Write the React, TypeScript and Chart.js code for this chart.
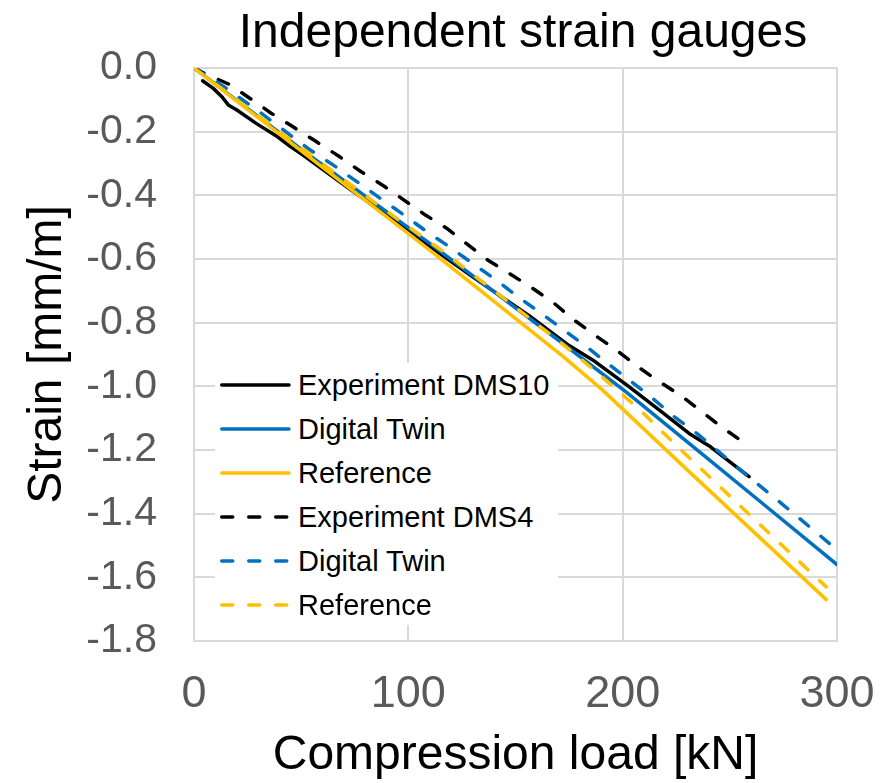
import React, { useEffect, useRef } from "react";
import { Chart, registerables } from "chart.js";

Chart.register(...registerables);

// ---------- data ----------
const TITLE = "Independent strain gauges";
const X_TITLE = "Compression load [kN]";
const Y_TITLE = "Strain [mm/m]";

const X_MIN = 0;
const X_MAX = 300;
const X_STEP = 100;
const Y_MIN = -1.8;
const Y_MAX = 0;
const Y_STEP = 0.2;

const SERIES_NAMES = [
  "Experiment DMS10",
  "Digital Twin",
  "Reference",
  "Experiment DMS4",
  "Digital Twin",
  "Reference",
];

const expDMS10Load = [4, 9, 13, 16, 20, 29, 39, 45, 51, 60, 73, 87, 110, 130, 157, 175, 186, 202, 217, 231, 241, 250, 259];
const expDMS10Strain = [-0.04, -0.064, -0.09, -0.116, -0.132, -0.174, -0.216, -0.247, -0.274, -0.318, -0.382, -0.448, -0.56, -0.656, -0.781, -0.872, -0.917, -0.996, -1.074, -1.148, -1.19, -1.237, -1.284];

const dtDMS10Load = [0, 50, 110, 171, 202, 233, 266, 300];
const dtDMS10Strain = [0, -0.255, -0.551, -0.86, -1.02, -1.19, -1.372, -1.56];

const refDMS10Load = [0, 110, 172, 190, 231, 295];
const refDMS10Strain = [0, -0.572, -0.905, -1.008, -1.268, -1.67];

const expDMS4Load = [0, 5, 17, 26, 36, 46, 57, 68, 78, 88, 98, 108, 118, 127, 137, 147, 158, 168, 177, 187, 197, 207, 217, 228, 237, 246, 256, 259];
const expDMS4Strain = [0, -0.017, -0.053, -0.095, -0.142, -0.184, -0.231, -0.279, -0.326, -0.368, -0.415, -0.462, -0.504, -0.551, -0.603, -0.645, -0.692, -0.739, -0.79, -0.839, -0.886, -0.938, -0.985, -1.033, -1.08, -1.127, -1.174, -1.184];

const dtDMS4Load = [0, 14, 30, 53, 65, 76, 87, 98, 109, 119, 130, 141, 151, 162, 172, 183, 193, 203, 214, 224, 235, 255, 275, 298];
const dtDMS4Strain = [0, -0.059, -0.135, -0.252, -0.305, -0.357, -0.41, -0.462, -0.516, -0.561, -0.614, -0.666, -0.718, -0.771, -0.82, -0.875, -0.928, -0.98, -1.038, -1.095, -1.15, -1.263, -1.373, -1.502];

const refDMS4Load = [0, 87, 118, 171, 186, 208, 228, 256, 295];
const refDMS4Strain = [0, -0.436, -0.585, -0.862, -0.945, -1.074, -1.205, -1.383, -1.63];

// ---------- styles ----------
const BLACK = "#000000";
const BLUE = "#0070C0";
const GOLD = "#FFC000";
const GRID = "#d9d9d9";
const TICK = "#595959";
const FONT = '"Liberation Sans", Arial, Helvetica, sans-serif';
const DASH = [11, 16];
const LINE_W = 3.5;

const SERIES_STYLE = [
  { color: BLACK, dashed: false },
  { color: BLUE, dashed: false },
  { color: GOLD, dashed: false },
  { color: BLACK, dashed: true },
  { color: BLUE, dashed: true },
  { color: GOLD, dashed: true },
];

const SERIES_DATA: [number[], number[]][] = [
  [expDMS10Load, expDMS10Strain],
  [dtDMS10Load, dtDMS10Strain],
  [refDMS10Load, refDMS10Strain],
  [expDMS4Load, expDMS4Strain],
  [dtDMS4Load, dtDMS4Strain],
  [refDMS4Load, refDMS4Strain],
];

const titlePlugin = {
  id: "customTitle",
  afterDraw(chart: any) {
    const ctx = chart.ctx;
    ctx.save();
    ctx.font = `48px ${FONT}`;
    ctx.fillStyle = "#000";
    ctx.textAlign = "center";
    ctx.textBaseline = "alphabetic";
    ctx.fillText(TITLE, 523, 47);
    ctx.restore();
  },
};

function LegendSample({ color, dashed }: { color: string; dashed: boolean }) {
  return (
    <svg width={72} height={10} style={{ display: "block", flex: "none" }}>
      <line
        x1={1.75}
        y1={5}
        x2={69}
        y2={5}
        stroke={color}
        strokeWidth={LINE_W}
        strokeLinecap="round"
        strokeDasharray={dashed ? DASH.join(" ") : undefined}
      />
    </svg>
  );
}

export default function App() {
  const canvasRef = useRef<HTMLCanvasElement | null>(null);

  useEffect(() => {
    const canvas = canvasRef.current;
    if (!canvas) return;
    const datasets = SERIES_DATA.map(([xs, ys], i) => ({
      label: SERIES_NAMES[i],
      data: xs.map((x, j) => ({ x, y: ys[j] })),
      showLine: true,
      borderColor: SERIES_STYLE[i].color,
      backgroundColor: SERIES_STYLE[i].color,
      borderWidth: LINE_W,
      borderDash: SERIES_STYLE[i].dashed ? DASH : [],
      borderCapStyle: "round" as const,
      borderJoinStyle: "round" as const,
      pointRadius: 0,
      pointHoverRadius: 0,
      tension: 0,
      fill: false,
      order: SERIES_DATA.length - i,
    }));

    const chart = new Chart(canvas, {
      type: "scatter",
      data: { datasets },
      plugins: [titlePlugin],
      options: {
        animation: false,
        responsive: false,
        devicePixelRatio: 1,
        layout: { padding: { left: 0, right: 50, top: 68, bottom: 0 } },
        plugins: {
          legend: { display: false },
          title: { display: false },
          tooltip: { enabled: false },
        },
        scales: {
          x: {
            type: "linear",
            min: X_MIN,
            max: X_MAX,
            afterFit: (scale: any) => {
              scale.height = 142;
              scale.paddingLeft = 0;
              scale.paddingRight = 0;
            },
            ticks: {
              stepSize: X_STEP,
              padding: 27,
              color: TICK,
              font: { family: FONT, size: 45 },
              callback: (v: any) => String(v),
            },
            grid: { color: GRID, lineWidth: 2, drawTicks: false },
            border: { display: true, color: GRID, width: 2 },
            title: {
              display: true,
              text: X_TITLE,
              color: "#000",
              font: { family: FONT, size: 48, lineHeight: 1 },
              padding: { top: 0, bottom: 3 },
            },
          },
          y: {
            type: "linear",
            min: Y_MIN,
            max: Y_MAX,
            afterFit: (scale: any) => {
              scale.width = 194;
              scale.paddingTop = 0;
              scale.paddingBottom = 0;
            },
            ticks: {
              stepSize: Y_STEP,
              padding: 37,
              color: TICK,
              font: { family: FONT, size: 41 },
              callback: (v: any) => (Math.abs(Number(v)) < 1e-9 ? "0.0" : Number(v).toFixed(1)),
            },
            grid: { color: GRID, lineWidth: 2, drawTicks: false },
            border: { display: true, color: GRID, width: 2 },
            title: {
              display: true,
              text: Y_TITLE,
              color: "#000",
              font: { family: FONT, size: 48, lineHeight: 1 },
              padding: { top: 24, bottom: 0 },
            },
          },
        },
      } as any,
    });

    return () => {
      chart.destroy();
    };
  }, []);

  return (
    <div
      style={{
        position: "fixed",
        left: 0,
        top: 0,
        width: 887,
        height: 783,
        background: "#ffffff",
        overflow: "hidden",
      }}
    >
      <canvas ref={canvasRef} width={887} height={783} style={{ display: "block" }} />
      <div
        style={{
          position: "absolute",
          left: 215,
          top: 363,
          width: 343,
          height: 262,
          background: "#ffffff",
          fontFamily: FONT,
          fontSize: 29,
          color: "#000",
        }}
      >
        {SERIES_NAMES.map((name, i) => (
          <div
            key={i}
            style={{
              height: 44,
              display: "flex",
              alignItems: "center",
              paddingLeft: 5,
              whiteSpace: "nowrap",
            }}
          >
            <LegendSample color={SERIES_STYLE[i].color} dashed={SERIES_STYLE[i].dashed} />
            <span style={{ marginLeft: 6, lineHeight: "44px" }}>{name}</span>
          </div>
        ))}
      </div>
    </div>
  );
}
